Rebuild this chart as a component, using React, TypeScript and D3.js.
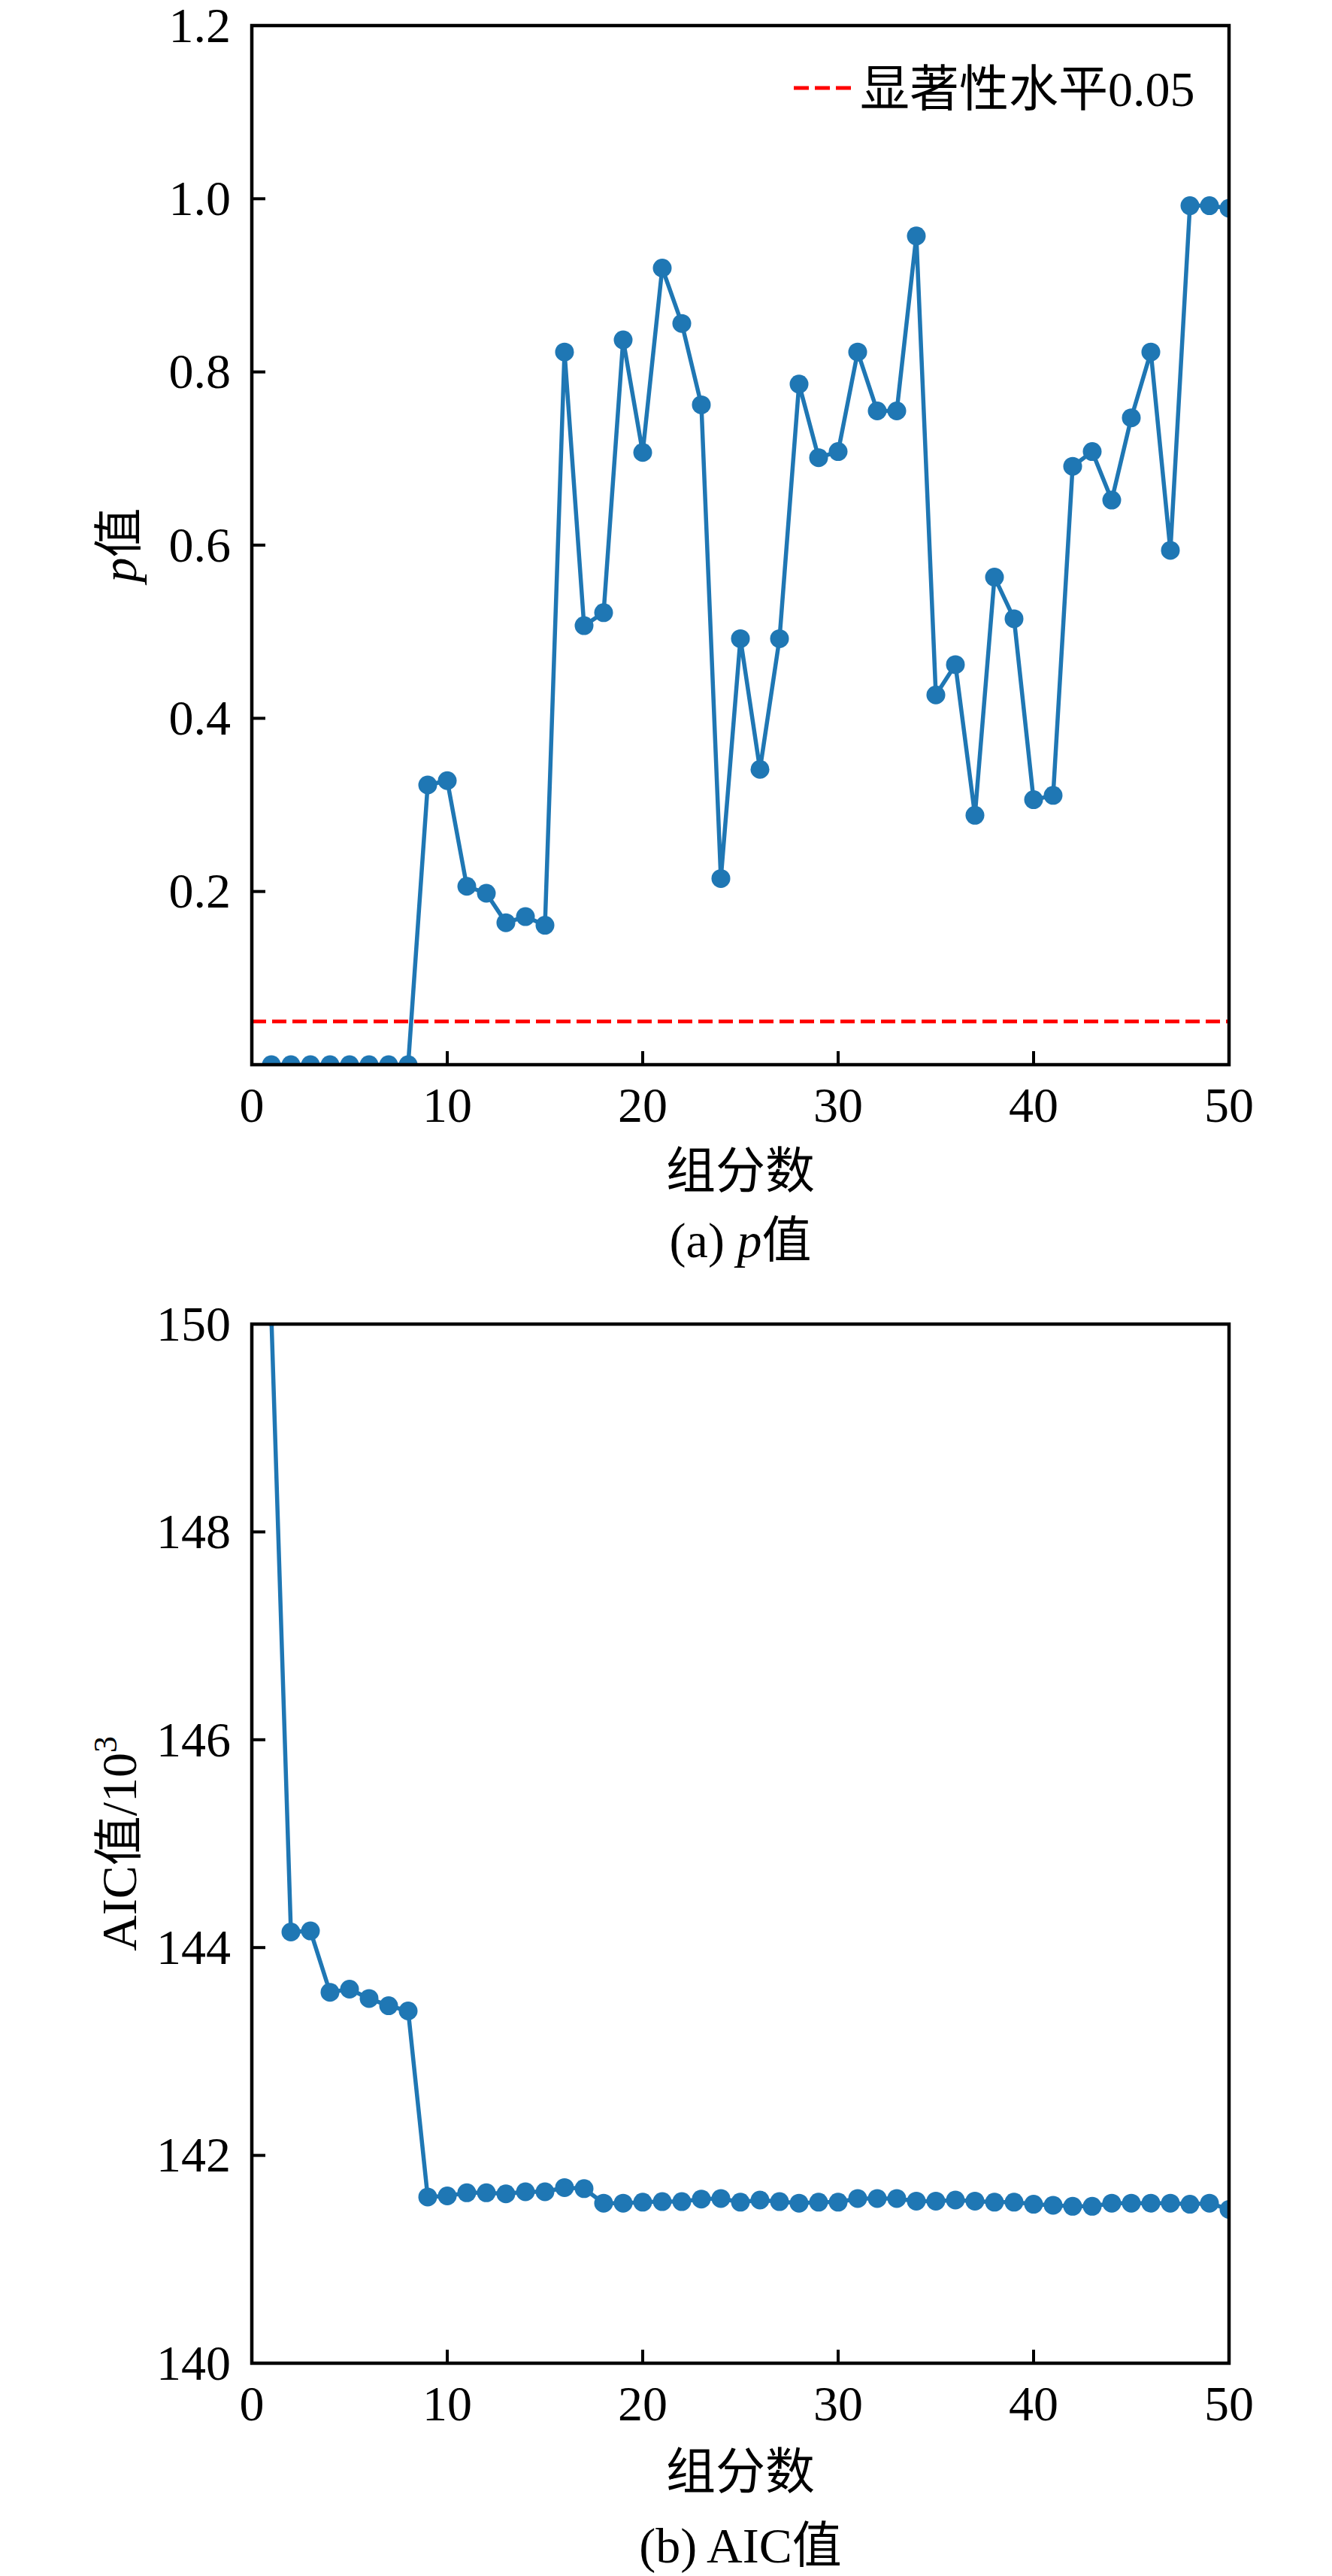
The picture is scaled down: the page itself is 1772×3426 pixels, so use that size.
import React from "react";
import * as d3 from "d3";

// ---------- data ----------
const components: number[] = d3.range(1, 51);

const pValues: number[] = [
  0, 0, 0, 0, 0, 0, 0, 0, 0.323, 0.328,
  0.206, 0.198, 0.164, 0.171, 0.161, 0.823, 0.507, 0.522, 0.837, 0.707,
  0.92, 0.856, 0.762, 0.215, 0.492, 0.341, 0.492, 0.786, 0.701, 0.708,
  0.823, 0.755, 0.755, 0.957, 0.427, 0.462, 0.288, 0.563, 0.515, 0.306,
  0.311, 0.691, 0.708, 0.652, 0.747, 0.823, 0.594, 0.992, 0.992, 0.989,
];

const aicValues: number[] = [
  150.07, 144.15, 144.16, 143.57, 143.6, 143.51, 143.44, 143.39, 141.6, 141.61,
  141.64, 141.64, 141.63, 141.65, 141.65, 141.69, 141.68, 141.54, 141.54, 141.55,
  141.555, 141.555, 141.58, 141.585, 141.55, 141.57, 141.555, 141.54, 141.55, 141.55,
  141.585, 141.585, 141.585, 141.56, 141.56, 141.57, 141.56, 141.55, 141.55, 141.53,
  141.52, 141.51, 141.51, 141.54, 141.54, 141.54, 141.54, 141.53, 141.54, 141.48,
];

const xTicks: number[] = [0, 10, 20, 30, 40, 50];
const pTicks: number[] = [0.2, 0.4, 0.6, 0.8, 1.0, 1.2];
const aicTicks: number[] = [140, 142, 144, 146, 148, 150];
const significance = 0.05;
const legendLabel = "显著性水平0.05";
const xLabel = "组分数";

// ---------- style ----------
const LATIN = "'Liberation Serif', 'Times New Roman', serif";
const CJK = "'Noto Sans CJK SC', 'Noto Sans CJK JP', sans-serif";
const BLUE = "#1f77b4";
const FS = 66;

// split a string into CJK / non-CJK runs, each with its own font
function mixed(text: string, italicLatin = false): React.ReactNode[] {
  const re = /[\u3000-\u9fff\uff00-\uffef]+|[^\u3000-\u9fff\uff00-\uffef]+/g;
  const runs = text.match(re) || [];
  return runs.map((r, i) => {
    const isCjk = /[\u3000-\u9fff\uff00-\uffef]/.test(r);
    return (
      <tspan
        key={i}
        fontFamily={isCjk ? CJK : LATIN}
        fontStyle={!isCjk && italicLatin ? "italic" : "normal"}
      >
        {r}
      </tspan>
    );
  });
}

type PanelProps = {
  id: string;
  top: number;
  bottom: number;
  values: number[];
  yDomain: [number, number];
  yTicks: number[];
  yFormat: (v: number) => string;
  yLabel: React.ReactNode;
  caption: React.ReactNode;
  xLabelBaseline: number;
  captionBaseline: number;
  children?: (x: d3.ScaleLinear<number, number>, y: d3.ScaleLinear<number, number>) => React.ReactNode;
};

const LEFT = 335;
const RIGHT = 1635;

function Panel(p: PanelProps) {
  const x = d3.scaleLinear().domain([0, 50]).range([LEFT, RIGHT]);
  const y = d3.scaleLinear().domain(p.yDomain).range([p.bottom, p.top]);
  const pts: [number, number][] = components.map((c, i) => [c, p.values[i]]);
  const line = d3
    .line<[number, number]>()
    .x((d) => x(d[0]))
    .y((d) => y(d[1]));
  const midY = (p.top + p.bottom) / 2;
  return (
    <g>
      <defs>
        <clipPath id={p.id}>
          <rect x={LEFT} y={p.top} width={RIGHT - LEFT} height={p.bottom - p.top} />
        </clipPath>
      </defs>
      <g clipPath={`url(#${p.id})`}>
        {p.children ? p.children(x, y) : null}
        <path d={line(pts) || ""} fill="none" stroke={BLUE} strokeWidth={5.5} strokeLinejoin="round" />
        {pts.map((d, i) => (
          <circle key={i} cx={x(d[0])} cy={y(d[1])} r={12.5} fill={BLUE} />
        ))}
      </g>
      {/* ticks inward */}
      {xTicks.map((t) => (
        <line key={"xt" + t} x1={x(t)} x2={x(t)} y1={p.bottom} y2={p.bottom - 18} stroke="#000" strokeWidth={4} />
      ))}
      {p.yTicks.map((t) => (
        <line key={"yt" + t} x1={LEFT} x2={LEFT + 18} y1={y(t)} y2={y(t)} stroke="#000" strokeWidth={4} />
      ))}
      <rect x={LEFT} y={p.top} width={RIGHT - LEFT} height={p.bottom - p.top} fill="none" stroke="#000" strokeWidth={4.5} />
      {/* tick labels */}
      {xTicks.map((t) => (
        <text key={"xl" + t} x={x(t)} y={p.bottom + 76} textAnchor="middle" fontSize={FS} fontFamily={LATIN}>
          {t}
        </text>
      ))}
      {p.yTicks.map((t) => (
        <text key={"yl" + t} x={307} y={y(t)} dy="0.33em" textAnchor="end" fontSize={FS} fontFamily={LATIN}>
          {p.yFormat(t)}
        </text>
      ))}
      {/* axis labels */}
      <text transform={`translate(181, ${midY}) rotate(-90)`} textAnchor="middle" fontSize={FS} fontFamily={LATIN}>
        {p.yLabel}
      </text>
      <text x={(LEFT + RIGHT) / 2} y={p.xLabelBaseline} textAnchor="middle" fontSize={FS} fontFamily={CJK}>
        {xLabel}
      </text>
      <text x={(LEFT + RIGHT) / 2} y={p.captionBaseline} textAnchor="middle" fontSize={FS} fontFamily={LATIN}>
        {p.caption}
      </text>
    </g>
  );
}

export default function App() {
  return (
    <svg
      width={1772}
      height={3426}
      viewBox="0 0 1772 3426"
      style={{ position: "absolute", left: 0, top: 0, background: "#fff" }}
    >
      <rect x={0} y={0} width={1772} height={3426} fill="#fff" />
      <Panel
        id="clipA"
        top={34}
        bottom={1416}
        values={pValues}
        yDomain={[0, 1.2]}
        yTicks={pTicks}
        yFormat={(v) => d3.format(".1f")(v)}
        yLabel={
          <>
            <tspan fontFamily={LATIN} fontStyle="italic">p</tspan>
            <tspan fontFamily={CJK}>值</tspan>
          </>
        }
        caption={
          <>
            <tspan fontFamily={LATIN}>(a) </tspan>
            <tspan fontFamily={LATIN} fontStyle="italic">p</tspan>
            <tspan fontFamily={CJK}>值</tspan>
          </>
        }
        xLabelBaseline={1580}
        captionBaseline={1672}
      >
        {(x, y) => (
          <line
            x1={x(0)}
            x2={x(50)}
            y1={y(significance)}
            y2={y(significance)}
            stroke="#ff0000"
            strokeWidth={5}
            strokeDasharray="19 8"
          />
        )}
      </Panel>
      {/* legend */}
      <line x1={1056} x2={1132} y1={117} y2={117} stroke="#ff0000" strokeWidth={5} strokeDasharray="20 8" />
      <text x={1144} y={141} fontSize={FS}>
        {mixed(legendLabel)}
      </text>
      <Panel
        id="clipB"
        top={1761}
        bottom={3143}
        values={aicValues}
        yDomain={[140, 150]}
        yTicks={aicTicks}
        yFormat={(v) => String(v)}
        yLabel={
          <>
            <tspan fontFamily={LATIN}>AIC</tspan>
            <tspan fontFamily={CJK}>值</tspan>
            <tspan fontFamily={LATIN}>/10</tspan>
            <tspan fontFamily={LATIN} fontSize={44} dy={-26}>3</tspan>
          </>
        }
        caption={
          <>
            <tspan fontFamily={LATIN}>(b) AIC</tspan>
            <tspan fontFamily={CJK}>值</tspan>
          </>
        }
        xLabelBaseline={3310}
        captionBaseline={3408}
      />
    </svg>
  );
}
